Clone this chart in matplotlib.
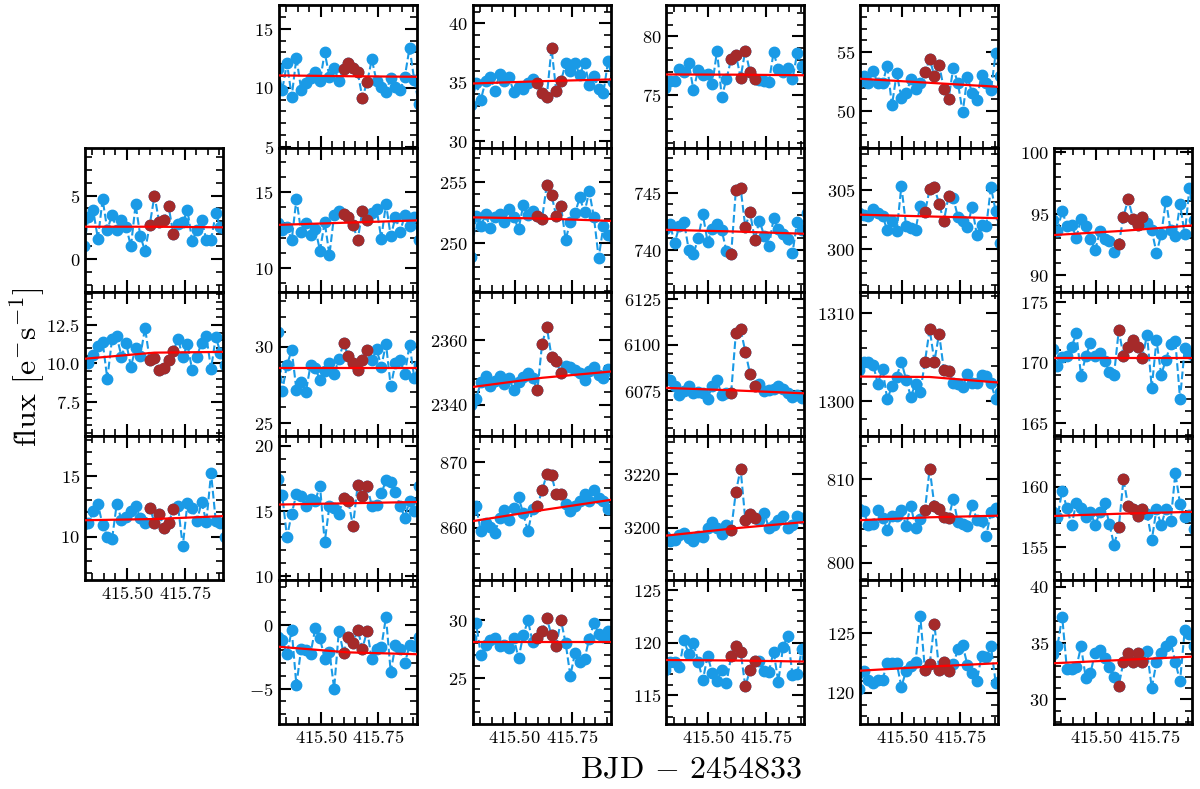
import matplotlib
matplotlib.use("Agg")
import matplotlib.pyplot as plt
from matplotlib.ticker import MultipleLocator, AutoMinorLocator

plt.rcParams['font.family'] = 'cmr10'
plt.rcParams['mathtext.fontset'] = 'cm'
plt.rcParams['axes.formatter.use_mathtext'] = True

# Kepler long-cadence time stamps (BJD - 2454833)
times = [415.3126, 415.3330, 415.3535, 415.3739, 415.3943, 415.4148, 415.4352,
         415.4556, 415.4760, 415.4965, 415.5169, 415.5373, 415.5578, 415.5782,
         415.5986, 415.6191, 415.6395, 415.6599, 415.6803, 415.7008, 415.7212,
         415.7416, 415.7621, 415.7825, 415.8029, 415.8234, 415.8438, 415.8642,
         415.8846, 415.9051, 415.9255]
flare_first, flare_last = 14, 19          # points flagged as flare (drawn dark red)
fit_times = [times[0], times[15], times[30]]

# column 0 (rows 1-3)
flux_c0_r1 = [1.0, 3.3, 3.85, 1.6, 4.7, 2.3, 3.5, 2.3, 3.1, 2.55, 1.0, 4.3, 1.8, 0.65,
              2.7, 5.0, 2.9, 3.05, 4.15, 1.95,
              2.8, 2.9, 3.85, 1.4, 2.3, 3.1, 1.5, 1.5, 3.6, 2.5, 2.4]
flux_c0_r2 = [10.1, 10.05, 10.55, 11.1, 11.4, 9.0, 11.6, 11.75, 10.45, 11.35, 9.8, 11.0, 10.5, 12.3,
              10.2, 10.35, 9.6, 9.7, 10.2, 10.8,
              11.6, 10.4, 11.25, 9.55, 10.45, 11.35, 11.75, 9.65, 11.7, 10.7, 9.9]
flux_c0_r3 = [11.0, 11.1, 12.1, 12.7, 10.95, 10.0, 9.8, 12.7, 11.4, 11.65, 12.1, 12.5, 11.5, 11.15,
              12.4, 11.15, 11.9, 10.7, 11.1, 12.3,
              12.5, 9.2, 12.8, 12.4, 11.3, 12.85, 11.2, 15.25, 11.3, 11.1, 10.0]
fit_c0_r1 = [2.55, 2.55, 2.5]
fit_c0_r2 = [10.3, 10.7, 10.75]
fit_c0_r3 = [11.35, 11.45, 11.7]

# column 1 (rows 0-4)
flux_c1_r0 = [11.6, 9.85, 12.1, 9.25, 12.55, 9.85, 10.4, 10.85, 11.3, 10.55, 13.0, 10.95, 11.7, 10.55,
              11.6, 12.1, 11.7, 11.3, 9.15, 10.5,
              12.4, 10.55, 10.1, 9.6, 10.85, 10.1, 9.8, 10.95, 13.4, 10.65, 8.6]
flux_c1_r1 = [13.0, 12.5, 12.7, 11.85, 14.55, 12.4, 13.0, 12.2, 12.6, 11.15, 13.05, 10.85, 13.5, 13.8,
              13.6, 13.4, 12.85, 11.85, 13.8, 13.15,
              13.65, 13.9, 11.95, 14.25, 12.1, 13.35, 12.4, 13.5, 12.75, 13.4, 11.85]
flux_c1_r2 = [31.0, 27.1, 28.8, 29.8, 27.15, 27.7, 27.0, 28.8, 28.6, 27.8, 28.4, 28.95, 28.2, 29.2,
              30.25, 29.4, 28.95, 28.5, 29.1, 29.8,
              29.1, 29.85, 28.7, 30.2, 27.4, 28.9, 29.1, 28.2, 30.15, 27.95, 28.8]
flux_c1_r3 = [17.45, 16.2, 13.0, 14.8, 16.3, 16.15, 15.4, 15.9, 15.8, 16.95, 12.6, 15.4, 15.25, 14.8,
              16.0, 15.8, 13.85, 17.0, 16.15, 16.9,
              15.4, 15.45, 16.35, 17.35, 17.25, 16.5, 15.4, 14.5, 15.8, 15.0, 16.95]
flux_c1_r4 = [-0.9, -1.2, -2.3, -0.4, -4.75, -1.85, -2.0, -2.25, -0.25, -1.05, -2.65, -2.1, -5.0, -0.45,
              -2.2, -0.9, -1.45, -0.35, -1.85, -0.45,
              -2.7, -1.85, -1.75, 0.65, -3.7, -1.6, -1.85, -3.0, -1.6, -1.65, -0.9]
fit_c1_r0 = [11.05, 10.98, 10.93]
fit_c1_r1 = [12.85, 13.0, 13.15]
fit_c1_r2 = [28.6, 28.6, 28.6]
fit_c1_r3 = [15.5, 15.6, 15.7]
fit_c1_r4 = [-1.7, -2.15, -2.3]

# column 2 (rows 0-4)
flux_c2_r0 = [33.1, 34.95, 33.5, 35.1, 35.45, 34.25, 35.75, 35.1, 35.45, 34.15, 34.6, 34.4, 34.95, 35.3,
              34.95, 34.1, 33.8, 37.9, 34.25, 35.1,
              36.6, 35.95, 36.6, 35.65, 36.65, 34.8, 35.5, 34.45, 34.1, 36.8, 35.0]
flux_c2_r1 = [248.8, 252.2, 251.35, 252.35, 251.25, 252.15, 252.35, 251.75, 252.75, 252.15, 251.1,
              253.1, 252.3, 252.65,
              252.2, 252.0, 254.8, 253.95, 252.2, 253.05,
              250.25, 251.75, 252.45, 253.75, 252.5, 254.25, 252.1, 248.75, 251.35, 250.6, 250.5]
flux_c2_r2 = [2340.0, 2341.7, 2346.9, 2348.9, 2345.8, 2347.2, 2348.9, 2346.5, 2348.2, 2344.4, 2346.9,
              2348.7, 2349.7, 2348.2,
              2344.4, 2358.8, 2364.1, 2354.9, 2353.6, 2349.7,
              2352.0, 2351.6, 2350.8, 2349.7, 2347.5, 2350.3, 2351.6, 2349.2, 2348.2, 2351.0, 2350.0]
flux_c2_r3 = [862.5, 863.3, 859.5, 860.7, 860.2, 859.3, 861.5, 862.7, 861.2, 863.0, 864.7, 862.2,
              859.5, 862.9,
              863.3, 865.7, 868.1, 868.0, 865.1, 865.1,
              863.7, 862.5, 863.4, 864.1, 865.2, 864.1, 865.7, 864.6, 864.1, 862.8, 863.0]
flux_c2_r4 = [28.5, 29.8, 27.0, 27.9, 28.3, 28.5, 27.8, 27.9, 27.6, 28.5, 26.7, 28.7, 30.0, 28.1,
              28.5, 29.05, 30.2, 28.7, 27.75, 30.05,
              28.0, 25.2, 27.2, 26.35, 26.65, 28.4, 29.8, 28.85, 28.6, 29.05, 28.5]
fit_c2_r0 = [34.9, 35.1, 35.25]
fit_c2_r1 = [252.1, 252.0, 251.8]
fit_c2_r2 = [2345.4, 2348.3, 2350.3]
fit_c2_r3 = [861.0, 862.7, 864.3]
fit_c2_r4 = [28.1, 28.1, 28.1]

# column 3 (rows 0-4)
flux_c3_r0 = [75.65, 76.2, 76.2, 77.2, 77.0, 77.75, 75.45, 77.15, 76.7, 76.85, 75.95, 78.75, 74.9, 76.35,
              78.1, 78.45, 76.5, 78.8, 76.95, 76.4,
              76.3, 76.2, 76.1, 78.65, 77.2, 77.0, 77.35, 76.35, 78.55, 77.5, 77.0]
flux_c3_r1 = [741.8, 742.3, 740.6, 742.05, 742.45, 740.0, 739.6, 741.05, 743.1, 740.7, 741.85, 742.25,
              741.7, 739.9,
              739.6, 745.25, 745.4, 742.0, 743.3, 740.9,
              742.55, 741.25, 740.3, 742.75, 741.85, 741.4, 740.95, 739.7, 742.45, 741.7, 743.2]
flux_c3_r2 = [6082.0, 6080.9, 6078.05, 6072.7, 6075.0, 6078.05, 6074.1, 6074.5, 6073.8, 6070.9, 6078.05,
              6081.3, 6072.7, 6073.8,
              6074.1, 6106.6, 6108.4, 6096.4, 6084.5, 6078.05,
              6079.1, 6075.0, 6075.6, 6076.3, 6078.05, 6076.3, 6073.8, 6072.0, 6073.2, 6071.5, 6071.0]
flux_c3_r3 = [3196.9, 3195.0, 3195.6, 3197.5, 3198.1, 3196.25, 3195.0, 3196.9, 3196.6, 3200.0, 3202.1,
              3200.0, 3197.9, 3201.25,
              3199.4, 3213.4, 3221.9, 3203.1, 3205.0, 3203.75,
              3202.9, 3205.6, 3200.0, 3201.25, 3202.9, 3204.4, 3200.0, 3201.25, 3204.4, 3203.75, 3203.0]
flux_c3_r4 = [117.4, 118.2, 118.2, 117.65, 120.2, 118.9, 120.0, 118.2, 116.45, 118.75, 117.1, 116.4,
              117.4, 116.2,
              118.7, 119.7, 119.15, 115.85, 117.4, 118.3,
              118.3, 117.35, 117.25, 119.15, 116.3, 119.55, 120.65, 116.95, 117.05, 119.35, 118.5]
fit_c3_r0 = [76.77, 76.75, 76.7]
fit_c3_r1 = [741.75, 741.6, 741.4]
fit_c3_r2 = [6076.8, 6075.4, 6073.8]
fit_c3_r3 = [3197.1, 3199.9, 3202.25]
fit_c3_r4 = [118.35, 118.3, 118.2]

# column 4 (rows 0-4)
flux_c4_r0 = [52.5, 53.0, 52.35, 53.4, 52.35, 52.35, 53.85, 50.5, 53.2, 51.15, 51.5, 52.7, 51.9, 52.35,
              53.3, 54.4, 53.0, 53.95, 51.9, 51.05,
              53.65, 52.35, 49.9, 52.9, 51.55, 50.95, 53.1, 52.35, 51.8, 54.9, 53.0]
flux_c4_r1 = [303.0, 302.9, 302.8, 303.4, 303.0, 302.8, 301.6, 302.35, 301.5, 305.3, 301.95, 301.8,
              301.65, 303.65,
              303.1, 305.05, 305.2, 303.8, 302.35, 304.45,
              304.3, 302.7, 302.35, 301.9, 303.55, 301.2, 302.05, 301.95, 305.2, 303.2, 300.5]
flux_c4_r2 = [1303.5, 1304.5, 1304.5, 1304.15, 1302.0, 1303.65, 1300.2, 1301.7, 1302.8, 1304.5, 1302.45,
              1300.5, 1302.0, 1301.0,
              1304.5, 1308.2, 1304.5, 1307.7, 1303.6, 1303.4,
              1302.1, 1301.9, 1301.6, 1303.1, 1302.05, 1302.05, 1303.0, 1302.9, 1302.05, 1300.2, 1301.0]
flux_c4_r3 = [806.5, 806.15, 804.55, 804.7, 806.35, 805.35, 803.9, 805.65, 805.65, 806.35, 804.45,
              806.85, 804.15, 805.25,
              806.35, 811.3, 806.85, 806.45, 805.5, 805.35,
              807.65, 804.85, 804.7, 804.35, 806.95, 805.15, 804.95, 803.2, 806.05, 806.55, 806.0]
flux_c4_r4 = [120.3, 121.85, 121.1, 120.85, 121.05, 121.1, 122.5, 122.5, 122.5, 120.5, 121.85, 122.25,
              122.6, 126.45,
              121.95, 122.4, 125.8, 121.95, 122.6, 121.85,
              122.4, 123.65, 124.0, 122.35, 121.7, 121.0, 123.1, 123.0, 123.9, 120.85, 121.0]
fit_c4_r0 = [52.75, 52.4, 52.05]
fit_c4_r1 = [302.9, 302.75, 302.6]
fit_c4_r2 = [1302.8, 1302.75, 1302.1]
fit_c4_r3 = [805.1, 805.45, 805.65]
fit_c4_r4 = [121.85, 122.2, 122.5]

# column 5 (rows 1-4)
flux_c5_r1 = [94.45, 93.6, 95.25, 93.95, 94.05, 93.05, 94.6, 93.95, 92.95, 92.0, 93.6, 92.9, 92.75, 91.85,
              92.5, 94.75, 96.2, 94.6, 94.05, 94.7,
              94.2, 93.65, 91.8, 93.3, 96.05, 93.65, 93.15, 95.75, 93.3, 97.1, 94.5]
flux_c5_r2 = [171.1, 169.7, 170.45, 170.5, 171.3, 172.4, 168.9, 170.5, 171.6, 170.55, 170.75, 170.1,
              169.25, 169.0,
              172.65, 170.55, 171.3, 171.85, 171.3, 170.35,
              172.3, 167.9, 171.85, 169.0, 170.2, 171.55, 171.75, 167.0, 171.2, 170.75, 170.5]
flux_c5_r3 = [157.95, 157.5, 159.7, 158.25, 156.85, 158.7, 158.25, 157.5, 157.95, 156.85, 157.9, 158.65,
              156.95, 155.2,
              156.65, 160.65, 158.4, 158.15, 157.6, 158.15,
              157.8, 155.6, 158.15, 156.85, 158.15, 157.15, 161.15, 158.6, 157.5, 157.7, 156.5]
flux_c5_r4 = [34.0, 34.75, 37.35, 32.65, 32.7, 32.85, 34.7, 31.9, 32.35, 34.15, 34.35, 33.65, 32.85, 31.95,
              31.2, 33.35, 34.15, 33.3, 34.15, 33.35,
              34.25, 31.0, 33.3, 34.15, 34.7, 35.15, 33.3, 31.6, 36.2, 35.8, 34.7]
fit_c5_r1 = [93.25, 93.6, 94.05]
fit_c5_r2 = [170.35, 170.35, 170.35]
fit_c5_r3 = [157.6, 157.8, 157.95]
fit_c5_r4 = [33.2, 33.5, 33.8]

# (col, row, flux, fit, ylim, major step)
panels = [
    (0, 1, flux_c0_r1, fit_c0_r1, (-2.6, 8.7), 5),
    (0, 2, flux_c0_r2, fit_c0_r2, (5.3, 14.6), 2.5),
    (0, 3, flux_c0_r3, fit_c0_r3, (6.4, 18.3), 5),
    (1, 0, flux_c1_r0, fit_c1_r0, (4.86, 17.06), 5),
    (1, 1, flux_c1_r1, fit_c1_r1, (8.4, 17.9), 5),
    (1, 2, flux_c1_r2, fit_c1_r2, (24.1, 33.6), 5),
    (1, 3, flux_c1_r3, fit_c1_r3, (9.7, 20.75), 5),
    (1, 4, flux_c1_r4, fit_c1_r4, (-7.8, 3.55), 5),
    (2, 0, flux_c2_r0, fit_c2_r0, (29.4, 41.6), 5),
    (2, 1, flux_c2_r1, fit_c2_r1, (245.9, 257.8), 5),
    (2, 2, flux_c2_r2, fit_c2_r2, (2330.2, 2374.8), 20),
    (2, 3, flux_c2_r3, fit_c2_r3, (852.1, 873.9), 10),
    (2, 4, flux_c2_r4, fit_c2_r4, (21.0, 33.5), 5),
    (3, 0, flux_c3_r0, fit_c3_r0, (70.5, 82.7), 5),
    (3, 1, flux_c3_r1, fit_c3_r1, (736.3, 748.85), 5),
    (3, 2, flux_c3_r2, fit_c3_r2, (6050.7, 6128.4), 25),
    (3, 3, flux_c3_r3, fit_c3_r3, (3180.6, 3234.1), 20),
    (3, 4, flux_c3_r4, fit_c3_r4, (112.3, 125.9), 5),
    (4, 0, flux_c4_r0, fit_c4_r0, (46.84, 59.04), 5),
    (4, 1, flux_c4_r1, fit_c4_r1, (296.4, 308.45), 5),
    (4, 2, flux_c4_r2, fit_c4_r2, (1296.0, 1312.4), 10),
    (4, 3, flux_c4_r3, fit_c4_r3, (797.9, 815.2), 10),
    (4, 4, flux_c4_r4, fit_c4_r4, (117.36, 129.5), 5),
    (5, 1, flux_c5_r1, fit_c5_r1, (88.6, 100.3), 5),
    (5, 2, flux_c5_r2, fit_c5_r2, (163.9, 175.8), 5),
    (5, 3, flux_c5_r3, fit_c5_r3, (152.3, 164.2), 5),
    (5, 4, flux_c5_r4, fit_c5_r4, (27.8, 40.6), 5),
]
bottom_row = {0: 3, 1: 4, 2: 4, 3: 4, 4: 4, 5: 4}

blue = '#1a9ae6'
dark_red = '#a52a2a'

W, H = 1200, 789
fig = plt.figure(figsize=(12, 7.89), dpi=100)

for col, row, flux, fit, ylim, step in panels:
    left = 85 + 193.8 * col
    top = 4.5 + 143.9 * row
    ax = fig.add_axes([left / W, 1 - (top + 143.9) / H, 138 / W, 143.9 / H])

    ax.plot(times, flux, ls='--', lw=1.5, color=blue, marker='o', ms=7.5, zorder=2)
    ax.plot(times[flare_first:flare_last + 1], flux[flare_first:flare_last + 1],
            'o', color=dark_red, ms=7.5, zorder=3)
    ax.plot(fit_times, fit, color='red', lw=1.6, zorder=4)

    ax.set_xlim(415.318, 415.916)
    ax.set_ylim(*ylim)
    ax.xaxis.set_major_locator(MultipleLocator(0.25))
    ax.xaxis.set_minor_locator(MultipleLocator(0.05))
    ax.yaxis.set_major_locator(MultipleLocator(step))
    ax.yaxis.set_minor_locator(AutoMinorLocator(5))
    ax.ticklabel_format(useOffset=False)

    ax.tick_params(which='both', direction='in', top=True, right=True, labelsize=13.3)
    ax.tick_params(which='major', length=8.5, width=1.5)
    ax.tick_params(which='minor', length=5, width=1.2)
    if row != bottom_row[col]:
        ax.tick_params(labelbottom=False)
    for sp in ax.spines.values():
        sp.set_linewidth(2)

fig.text(27 / W, 1 - 367 / H, r'flux $[\mathrm{e^{-}s^{-1}}]$', rotation=90,
         ha='center', va='center', fontsize=23)
fig.text(691 / W, 1 - 770 / H, r'BJD $-$ 2454833', ha='center', va='center', fontsize=23)

fig.savefig('out.png', dpi=100)
